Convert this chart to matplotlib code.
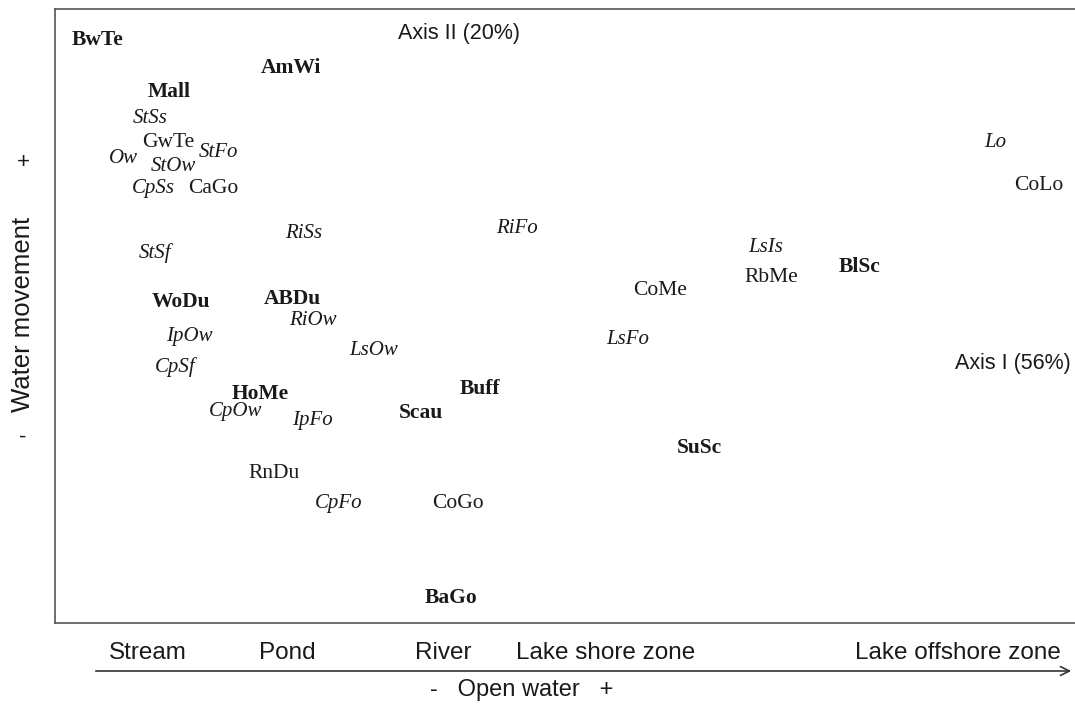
import matplotlib
matplotlib.use("Agg")
import matplotlib.pyplot as plt

# ordination scores (axis I, axis II), scaled 0-100
species = ["BwTe", "AmWi", "Mall", "GwTe", "CaGo", "WoDu", "ABDu", "HoMe",
           "RnDu", "CoGo", "BaGo", "Buff", "Scau", "CoMe", "RbMe", "BlSc",
           "SuSc", "CoLo"]
species_x = [4.2, 23.1, 11.2, 11.1, 15.5, 12.3, 23.3, 20.1,
             21.5, 39.5, 38.8, 41.7, 35.9, 59.3, 70.2, 78.9,
             63.2, 96.4]
species_y = [95.0, 90.4, 86.5, 78.2, 70.8, 52.3, 52.8, 37.3,
             24.3, 19.5, 4.1, 38.1, 34.2, 54.1, 56.2, 58.0,
             28.5, 71.3]
species_bold = [True, True, True, False, False, True, True, True,
                False, False, True, True, True, False, False, True,
                True, False]

habitats = ["StSs", "StFo", "Ow", "StOw", "CpSs", "RiSs", "StSf", "RiOw",
            "IpOw", "CpSf", "LsOw", "CpOw", "IpFo", "CpFo", "RiFo", "LsIs",
            "LsFo", "Lo"]
habitat_x = [9.3, 16.0, 6.7, 11.6, 9.6, 24.4, 9.8, 25.3,
             13.2, 11.8, 31.2, 17.7, 25.2, 27.8, 45.3, 69.7,
             56.2, 92.2]
habitat_y = [82.2, 76.7, 75.7, 74.4, 70.7, 63.5, 60.3, 49.3,
             46.6, 41.7, 44.3, 34.5, 32.9, 19.5, 64.2, 61.2,
             46.1, 78.2]

zones = ["Stream", "Pond", "River", "Lake shore zone", "Lake offshore zone"]
zone_pos = [148, 287, 443, 606, 958]

W, H = 1075, 706
fig = plt.figure(figsize=(W / 100, H / 100), dpi=100)
ax = fig.add_axes([55 / W, (H - 623) / H, (W - 55) / W, 614 / H])
ax.set_xlim(0, 100)
ax.set_ylim(0, 100)
ax.set_xticks([])
ax.set_yticks([])
ax.spines["right"].set_visible(False)
for s in ["left", "top", "bottom"]:
    ax.spines[s].set_color("#555555")
    ax.spines[s].set_linewidth(1.2)

ink = "#1a1a1a"
serif = "Liberation Serif"
sans = "Liberation Sans"

for name, x, y, b in zip(species, species_x, species_y, species_bold):
    ax.text(x, y, name, ha="center", va="center", fontsize=15.5, family=serif,
            weight="bold" if b else "normal", color=ink)

for name, x, y in zip(habitats, habitat_x, habitat_y):
    ax.text(x, y, name, ha="center", va="center", fontsize=15, family=serif,
            style="italic", color=ink)

# axis captions
fig.text(459 / W, 1 - 33 / H, "Axis II (20%)", ha="center", va="center",
         fontsize=15.5, family=sans, color=ink)
fig.text(1013 / W, 1 - 363 / H, "Axis I (56%)", ha="center", va="center",
         fontsize=15.5, family=sans, color=ink)

# gradient below the plot
for z, px in zip(zones, zone_pos):
    fig.text(px / W, 1 - 653 / H, z, ha="center", va="center",
             fontsize=17.5, family=sans, color=ink)
fig.patches.append(matplotlib.patches.FancyArrowPatch(
    (93 / W, 1 - 671 / H), (1074 / W, 1 - 671 / H), transform=fig.transFigure,
    arrowstyle="->", mutation_scale=16, color="#333333", lw=1.2))
fig.text(522 / W, 1 - 690 / H, "-   Open water   +", ha="center", va="center",
         fontsize=17, family=sans, color=ink)

# vertical gradient
fig.text(23 / W, 1 - 314 / H, "Water movement", ha="center", va="center",
         rotation=90, fontsize=18.5, family=sans, color=ink)
fig.text(23 / W, 1 - 163 / H, "+", ha="center", va="center",
         fontsize=16, family=sans, color=ink)
fig.text(23 / W, 1 - 437 / H, "-", ha="center", va="center",
         fontsize=16, family=sans, color=ink)

fig.savefig("out.png", dpi=100)
